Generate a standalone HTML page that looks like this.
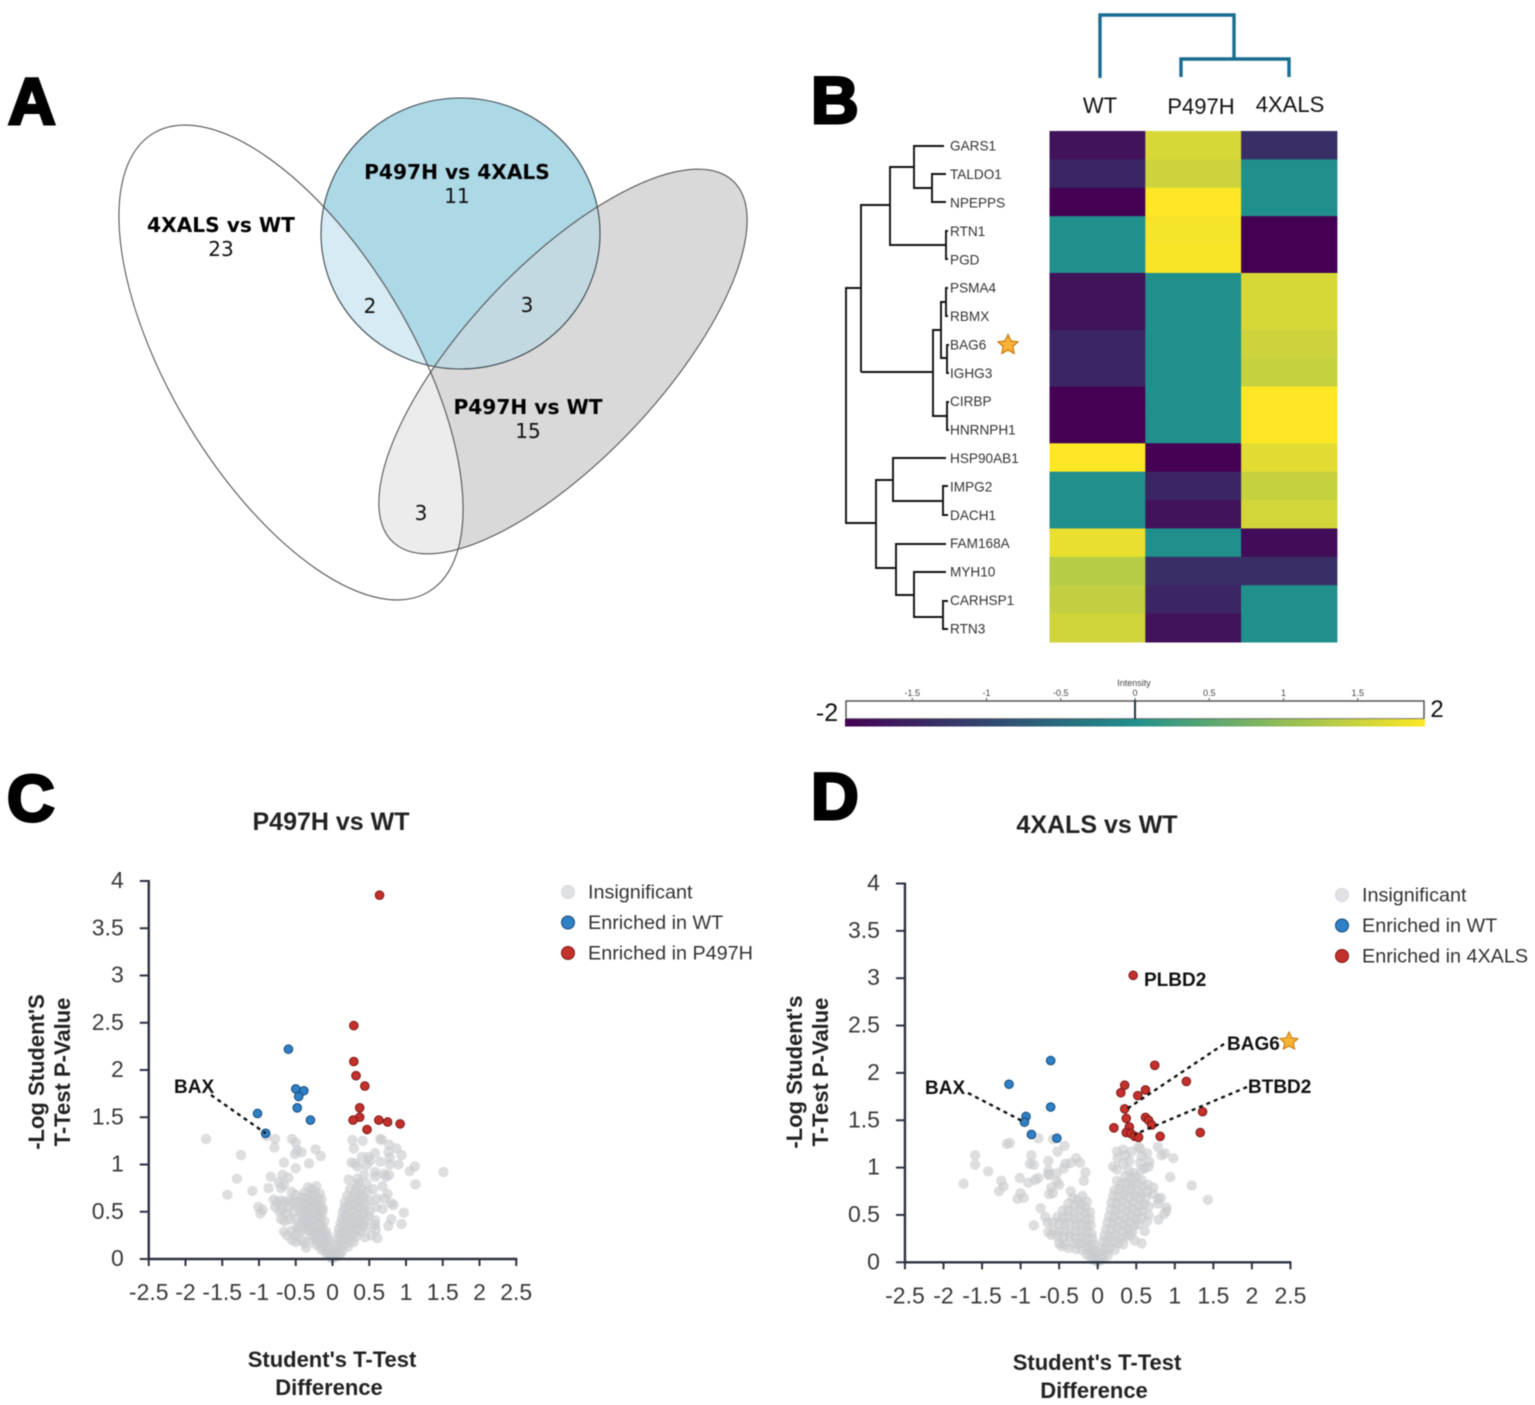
<!DOCTYPE html>
<html lang="en">
<head>
<meta charset="utf-8">
<title>Proteomics figure: Venn, heatmap and volcano plots</title>
<style>
html,body{margin:0;padding:0;background:#fff;}
#figure{display:block;width:1535px;height:1405px;font-family:"Liberation Sans",Arial,sans-serif;filter:blur(0.4px);}
.panel-letter{font-size:66px;font-weight:700;fill:#000;stroke:#000;stroke-width:3px;}
.venn-title{font-family:"DejaVu Sans",sans-serif;font-size:20.2px;font-weight:700;fill:#000;text-anchor:middle;}
.venn-num{font-family:"DejaVu Sans",sans-serif;font-size:20px;fill:#111;text-anchor:middle;}
.tick{font-size:23px;fill:#3a3a3a;}
.axis-title{font-size:22px;font-weight:700;fill:#222;text-anchor:middle;}
.plot-title{font-size:25px;font-weight:700;fill:#222;text-anchor:middle;}
.legend-text{font-size:19.8px;fill:#333;}
.anno{font-size:19px;font-weight:700;fill:#111;}
.gene{font-size:13.6px;fill:#333;}
.sample{font-size:22px;fill:#111;text-anchor:middle;}
.cb-tick{font-size:9px;fill:#444;text-anchor:middle;}
</style>
</head>
<body>
<svg id="figure" xmlns="http://www.w3.org/2000/svg" width="1535" height="1405" viewBox="0 0 1535 1405">
<defs>
  <clipPath id="clip-blue"><ellipse cx="460.5" cy="233.5" rx="139.5" ry="135.5"/></clipPath>
  <clipPath id="clip-gray"><ellipse cx="563" cy="361.5" rx="248" ry="97" transform="rotate(-46.7 563 361.5)"/></clipPath>
  <linearGradient id="cb-gradient" x1="0" x2="1" y1="0" y2="0">
    <stop offset="0" stop-color="#440154"/><stop offset="0.5" stop-color="#21908c"/><stop offset="1" stop-color="#fde725"/>
  </linearGradient>
</defs>

<text class="panel-letter" x="8" y="124">A</text>
<text class="panel-letter" x="811" y="123">B</text>
<text class="panel-letter" x="7" y="821">C</text>
<text class="panel-letter" x="811" y="819">D</text>

<g id="venn">
  <ellipse cx="460.5" cy="233.5" rx="139.5" ry="135.5" fill="#add8e6"/>
  <ellipse cx="563" cy="361.5" rx="248" ry="97" transform="rotate(-46.7 563 361.5)" fill="#d9d9d9"/>
  <g clip-path="url(#clip-blue)">
    <ellipse cx="563" cy="361.5" rx="248" ry="97" transform="rotate(-46.7 563 361.5)" fill="#c3d9e1"/>
    <ellipse cx="291" cy="362.5" rx="267.4" ry="120.3" transform="rotate(59 291 362.5)" fill="#d6ebf3"/>
  </g>
  <g clip-path="url(#clip-gray)">
    <ellipse cx="291" cy="362.5" rx="267.4" ry="120.3" transform="rotate(59 291 362.5)" fill="#ececec"/>
  </g>
  <ellipse cx="460.5" cy="233.5" rx="139.5" ry="135.5" fill="none" stroke="#3d4a50" stroke-width="1.1"/>
  <ellipse cx="563" cy="361.5" rx="248" ry="97" transform="rotate(-46.7 563 361.5)" fill="none" stroke="#555" stroke-width="1.1"/>
  <ellipse cx="291" cy="362.5" rx="267.4" ry="120.3" transform="rotate(59 291 362.5)" fill="none" stroke="#555" stroke-width="1.1"/>
  <text class="venn-title" x="457" y="179">P497H vs 4XALS</text>
  <text class="venn-num" x="457" y="203">11</text>
  <text class="venn-title" x="221" y="232">4XALS vs WT</text>
  <text class="venn-num" x="221" y="256">23</text>
  <text class="venn-title" x="528" y="414">P497H vs WT</text>
  <text class="venn-num" x="528" y="438">15</text>
  <text class="venn-num" x="370" y="313">2</text>
  <text class="venn-num" x="527" y="312">3</text>
  <text class="venn-num" x="421" y="520">3</text>
</g>

<g id="sample-dendrogram" fill="none" stroke="#1b6c90" stroke-width="3.4">
  <path d="M1100 78V15H1234V59"/>
  <path d="M1181 77V59H1289V77"/>
</g>

<g id="gene-dendrogram" fill="none" stroke="#111" stroke-width="1.9">
  <path d="M876 523H846V288H861"/>
  <path d="M861 372V205H890"/>
  <path d="M861 372H933"/>
  <path d="M914 167H890V245H946"/>
  <path d="M944 146H914V188H932"/>
  <path d="M946 174H932V202H946"/>
  <path d="M948 231H946V259H948"/>
  <path d="M941 330H933V416H947"/>
  <path d="M946 302H941V358H947"/>
  <path d="M948 288H946V316H948"/>
  <path d="M949 345H947V373H949"/>
  <path d="M949 402H947V430H949"/>
  <path d="M893 480H876V568H896"/>
  <path d="M946 458H893V501H943"/>
  <path d="M948 486H943V515H948"/>
  <path d="M946 544H896V595H914"/>
  <path d="M946 572H914V617H943"/>
  <path d="M948 601H943V629H948"/>
</g>

<g id="heatmap"></g>
<path d="M1008 334.5l3 6.4 7 .9-5.1 4.8 1.3 6.9-6.2-3.4-6.2 3.4 1.3-6.9-5.1-4.8 7-.9z" fill="#f9b233" stroke="#c47a12" stroke-width="1.2"/>

<g id="colorbar">
  <rect x="846" y="701" width="578" height="18" fill="#fff" stroke="#555" stroke-width="1.5"/>
  <rect x="845" y="719" width="580" height="7.5" fill="url(#cb-gradient)"/>
  <text x="1134" y="686" class="cb-tick">Intensity</text>
  <text x="827" y="721" font-size="25" fill="#111" text-anchor="middle">-2</text>
  <text x="1437" y="717" font-size="24" fill="#111" text-anchor="middle">2</text>
</g>

<g id="plot-c"></g>
<g id="plot-d"></g>
</svg>

<script>
const genes = ["GARS1","TALDO1","NPEPPS","RTN1","PGD","PSMA4","RBMX","BAG6","IGHG3","CIRBP","HNRNPH1","HSP90AB1","IMPG2","DACH1","FAM168A","MYH10","CARHSP1","RTN3"];
const samples = ["WT","P497H","4XALS"];
const heatWT = [-1.75,-1.5,-2,0,0,-1.75,-1.75,-1.5,-1.5,-2,-2,2,0,0,1.82,1.35,1.45,1.58];
const heatP497H = [1.65,1.55,2,1.93,1.95,0,0,0,0,0,0,-2,-1.5,-1.75,0,-1.35,-1.5,-1.75];
const heat4XALS = [-1.35,0,0,-2,-2,1.65,1.65,1.55,1.5,2,2,1.75,1.5,1.62,-1.85,-1.35,0,0];
const colorbarTicks = [-1.5,-1,-0.5,0,0.5,1,1.5];

const volcanoXTicks = [-2.5,-2,-1.5,-1,-0.5,0,0.5,1,1.5,2,2.5];
const volcanoYTicks = [0,0.5,1,1.5,2,2.5,3,3.5,4];

const cRed = [[.64,3.85],[.29,2.47],[.29,2.09],[.32,1.94],[.44,1.83],[.37,1.6],[.37,1.5],[.28,1.47],[.63,1.47],[.75,1.45],[.92,1.43],[.47,1.37]];
const cBlue = [[-.6,2.22],[-.5,1.8],[-.39,1.78],[-.46,1.72],[-.48,1.6],[-.3,1.47],[-1.02,1.54],[-.91,1.33]];
const cGray = [
[-1.72,1.27],[-1.245,1.10],[-1.30,.85],[-1.43,.68],[-1.09,.72],[-.84,.87],[-.87,.75],[-1.01,.55],[-.95,.52],[-.98,.48],[-.9,1.3],[-.78,1.27],[-.79,1.18],[-.66,1.02],[-.55,1.27],[-.50,1.23],[-.48,1.15],[-.42,1.13],[-.51,1.11],[-.50,.96],[-.32,1.01],[-.23,1.16],[-.16,1.09],[-.68,.89],[-.60,.86],[-.73,.81],[-.66,.78],[-.70,.75],[-.555,.71],[-.5,.68],
[-.33,.76],[-.28,.74],[-.22,.77],[-.38,.7],[-.3,.69],[-.24,.71],[-.17,.69],[-.42,.65],[-.36,.64],[-.3,.63],[-.25,.66],[-.2,.64],[-.15,.63],[-.45,.6],[-.39,.59],[-.33,.58],[-.27,.6],[-.22,.59],[-.16,.57],[-.42,.54],[-.36,.55],[-.3,.53],[-.24,.54],[-.18,.52],[-.13,.53],[-.43,.5],[-.37,.49],[-.31,.48],[-.25,.5],[-.19,.47],[-.14,.49],[-.4,.45],[-.34,.44],[-.28,.43],[-.22,.45],[-.16,.43],[-.4,.4],[-.34,.39],[-.28,.38],[-.22,.4],[-.16,.38],[-.11,.4],[-.37,.35],[-.31,.34],[-.25,.33],[-.19,.35],[-.13,.33],[-.33,.3],[-.27,.29],[-.21,.28],[-.15,.3],[-.09,.29],[-.3,.25],[-.24,.24],[-.18,.26],[-.12,.24],[-.07,.25],[-.27,.2],[-.21,.19],[-.15,.21],[-.09,.19],[-.05,.2],[-.22,.15],[-.16,.14],[-.1,.16],[-.05,.14],[-.15,.1],[-.1,.09],[-.05,.1],[-.08,.05],[-.04,.04],[-.02,.02],[-.01,.01],
[-.8,.63],[-.75,.6],[-.7,.62],[-.65,.6],[-.6,.62],[-.55,.6],[-.78,.55],[-.72,.5],[-.68,.52],[-.62,.48],[-.6,.55],[-.7,.42],[-.65,.4],[-.58,.42],[-.52,.5],[-.5,.42],[-.66,.29],[-.62,.25],[-.55,.2],[-.5,.18],[-.55,.3],[-.48,.33],[-.5,.25],[-.42,.2],[-.38,.17],[-.36,.12],[-.45,.28],[-.47,.55],[-.5,.6],[-.44,.37],[-.42,.31],
[.27,1.26],[.41,1.25],[.29,1.17],[.65,1.27],[.67,1.26],[.77,1.21],[.87,1.17],[.76,1.13],[.94,1.10],[.40,1.08],[.49,1.08],[.58,1.12],[.78,1.07],[.65,1.03],[.26,1.02],[.31,1.01],[.34,.98],[.51,1.04],[.46,.99],[.78,1.0],[.90,1.0],[1.12,.98],[1.05,.93],[1.51,.92],[1.13,.79],[.58,.92],[.58,.87],[.43,.89],[.70,.90],[.77,.89],[.73,.87],[.22,.84],[.34,.85],[.35,.80],[.46,.80],[.55,.74],[.68,.77],[.75,.69],[.6,.64],[.71,.64],[.80,.59],[.83,.57],[.68,.53],[.59,.55],[.97,.49],[.80,.42],[.94,.37],[.76,.35],[.58,.41],[.58,.36],[.59,.31],[.53,.25],[.61,.22],[.44,.23],[.46,.34],[.49,.45],
[.24,.74],[.33,.76],[.4,.73],[.47,.71],[.31,.7],[.38,.68],[.2,.67],[.27,.65],[.34,.63],[.42,.65],[.5,.62],[.17,.6],[.24,.6],[.31,.58],[.38,.6],[.45,.58],[.16,.54],[.22,.55],[.29,.53],[.36,.54],[.43,.52],[.5,.5],[.14,.49],[.2,.48],[.27,.49],[.34,.47],[.41,.48],[.13,.43],[.19,.44],[.25,.42],[.32,.43],[.38,.41],[.44,.4],[.11,.38],[.17,.37],[.23,.38],[.29,.36],[.35,.37],[.41,.35],[.09,.32],[.15,.33],[.21,.31],[.27,.32],[.33,.3],[.38,.29],[.08,.27],[.14,.26],[.2,.27],[.26,.25],[.32,.24],[.07,.21],[.12,.2],[.18,.21],[.24,.19],[.29,.18],[.05,.15],[.1,.14],[.16,.15],[.21,.13],[.04,.1],[.08,.09],[.13,.08],[.03,.05],[.06,.03],[.1,.04],[.01,.01]
];

const dRed = [[.46,3.03],[.74,2.08],[1.15,1.91],[.35,1.87],[.3,1.79],[.62,1.82],[.52,1.76],[.35,1.62],[.37,1.52],[.62,1.53],[.66,1.5],[.7,1.45],[1.36,1.59],[1.33,1.37],[.21,1.42],[.41,1.43],[.37,1.37],[.43,1.36],[.48,1.33],[.53,1.32],[.81,1.33]];
const dBlue = [[-.61,2.13],[-1.15,1.88],[-.61,1.64],[-.93,1.54],[-.95,1.48],[-.86,1.35],[-.53,1.31]];
const dGray = [
[-1.74,.83],[-1.59,1.13],[-1.59,1.03],[-1.42,.96],[-1.25,.86],[-1.22,.80],[-1.28,.75],[-1.18,1.25],[-1.14,1.26],[-.86,1.13],[-.88,1.04],[-.83,1.03],[-.77,1.31],[-.58,1.30],[-.43,1.23],[-.52,1.17],[-.64,1.07],[-.28,1.10],[-.35,1.05],[-.42,1.04],[-.23,1.05],[-.44,.99],[-.64,.97],[-.64,.93],[-.53,.94],[-.16,.95],[-.18,.86],[-1.01,.89],[-.9,.84],[-.81,.87],[-.77,.89],[-.63,.92],[-.53,.85],[-.5,.82],[-.6,.79],[-.63,.72],[-.58,.73],[-.35,.75],[-1.0,.73],[-.96,.68],[-1.04,.67],[-.74,.57],[-.68,.48],[-.65,.42],[-.83,.39],[-.64,.32],[-.47,.17],[-.38,.15],
[-.32,.68],[-.26,.66],[-.2,.7],[-.14,.64],[-.38,.62],[-.3,.6],[-.22,.61],[-.16,.58],[-.45,.55],[-.38,.54],[-.3,.53],[-.23,.55],[-.16,.52],[-.1,.53],[-.52,.48],[-.45,.47],[-.38,.48],[-.3,.46],[-.23,.47],[-.16,.45],[-.1,.46],[-.58,.42],[-.5,.41],[-.43,.4],[-.36,.41],[-.28,.39],[-.21,.4],[-.14,.38],[-.09,.39],[-.57,.33],[-.5,.32],[-.43,.33],[-.36,.31],[-.28,.33],[-.21,.31],[-.14,.32],[-.08,.3],[-.6,.29],[-.52,.27],[-.44,.26],[-.36,.27],[-.28,.25],[-.21,.26],[-.14,.24],[-.07,.25],[-.5,.2],[-.42,.19],[-.3,.2],[-.24,.19],[-.17,.2],[-.1,.18],[-.05,.19],[-.28,.14],[-.2,.13],[-.13,.14],[-.08,.13],[-.04,.12],[-.14,.08],[-.09,.07],[-.05,.08],[-.07,.03],[-.03,.03],[-.01,.01],
[.25,1.17],[.33,1.19],[.44,1.17],[.53,1.22],[.55,1.2],[.78,1.22],[.87,1.15],[.83,1.13],[.98,1.10],[.64,1.15],[.57,1.12],[.36,1.13],[.26,1.10],[.41,1.07],[.33,1.04],[.67,1.06],[.2,1.01],[.25,.98],[.55,1.05],[.61,.99],[.66,1.01],[.57,.98],[.94,.9],[1.22,.81],[1.43,.66],[.72,.79],[.72,.72],[.82,.68],[.79,.67],[.78,.62],[.89,.58],[.89,.54],[.86,.51],[.79,.45],[.66,.59],[.66,.5],[.64,.43],[.61,.33],[.57,.2],[.48,.23],
[.4,.97],[.47,.94],[.36,.91],[.43,.88],[.5,.9],[.57,.87],[.25,.86],[.31,.83],[.38,.84],[.45,.82],[.52,.83],[.59,.8],[.65,.82],[.22,.76],[.29,.77],[.36,.75],[.43,.77],[.5,.75],[.57,.73],[.64,.74],[.2,.7],[.27,.69],[.34,.71],[.41,.68],[.48,.7],[.55,.67],[.62,.68],[.18,.63],[.25,.62],[.32,.64],[.39,.61],[.46,.63],[.53,.6],[.6,.61],[.17,.56],[.24,.55],[.31,.57],[.38,.54],[.45,.56],[.52,.53],[.58,.54],[.15,.49],[.22,.48],[.29,.5],[.36,.47],[.43,.49],[.5,.46],[.56,.47],[.13,.42],[.2,.41],[.27,.43],[.34,.4],[.41,.42],[.48,.39],[.53,.4],[.11,.35],[.18,.34],[.25,.36],[.32,.33],[.39,.35],[.45,.32],[.09,.28],[.16,.27],[.23,.29],[.3,.26],[.37,.27],[.42,.29],[.07,.22],[.13,.21],[.2,.22],[.27,.2],[.33,.19],[.05,.15],[.1,.14],[.16,.15],[.22,.13],[.04,.09],[.08,.08],[.13,.07],[.03,.04],[.06,.03],[.01,.01]
];

const SVGNS = "http://www.w3.org/2000/svg";
function make(tag, parent, attrs, text) {
  const el = document.createElementNS(SVGNS, tag);
  for (const k in attrs) el.setAttribute(k, attrs[k]);
  if (text !== undefined) el.textContent = text;
  parent.appendChild(el);
  return el;
}
function mix(a, b, t) {
  return a.map((v, i) => Math.round(v + (b[i] - v) * t));
}
function intensityColor(v) {
  const low = [68, 1, 84], mid = [33, 144, 140], high = [253, 231, 37];
  const c = v < 0 ? mix(mid, low, Math.min(1, -v / 2)) : mix(mid, high, Math.min(1, v / 2));
  return "rgb(" + c.join(",") + ")";
}

/* ---------- heatmap ---------- */
const heatmap = document.getElementById("heatmap");
const heatColumns = [heatWT, heatP497H, heat4XALS];
const heatLeft = 1049.5, heatTop = 131, colW = 95.8, rowH = 511 / genes.length;
const sampleXOffsets = [1100, 1201, 1290];
const sampleYOffsets = [113, 114, 112];
heatColumns.forEach(function (column, c) {
  column.forEach(function (value, r) {
    const cell = make("rect", heatmap, {x: heatLeft + c * colW, y: heatTop + r * rowH, width: colW + 0.5, height: rowH + 0.5, fill: intensityColor(value)});
    
    
  });
  const label = make("text", heatmap, {x: sampleXOffsets[c], y: sampleYOffsets[c], class: "sample"}, samples[c]);
  
  
});
genes.forEach(function (gene, r) {
  const label = make("text", heatmap, {x: 950, y: heatTop + (r + 0.5) * rowH + 5.5, class: "gene"}, gene);
  
  
});

/* ---------- colorbar ticks ---------- */
const colorbar = document.getElementById("colorbar");
function cbScale(v) { return 1135 + v * 148.5; }
colorbarTicks.forEach(function (v) {
  const x = cbScale(v);
  const tick = make("line", colorbar, {x1: x, x2: x, y1: 698, y2: 701, stroke: "#555", "stroke-width": 1});
  
  
  const label = make("text", colorbar, {x: x, y: 696, class: "cb-tick"}, String(v));
  
  
});
const zeroMark = make("line", colorbar, {x1: cbScale(0), x2: cbScale(0), y1: 700, y2: 719, stroke: "#1c3b40", "stroke-width": 2});



/* ---------- volcano plots ---------- */
function drawVolcano(cfg) {
  const g = document.getElementById(cfg.id);
  const sx = v => cfg.x0 + v * cfg.xUnit;
  const sy = v => cfg.y0 - v * cfg.yUnit;
  const AXIS = "#2c3240";

  const title = make("text", g, {x: cfg.titleX, y: cfg.titleY, class: "plot-title"}, cfg.title);
  
  

  cfg.gray.forEach(function (p) {
    const dot = make("circle", g, {cx: sx(p[0]), cy: sy(p[1]), r: 4.9, fill: "#cbced2", "fill-opacity": 0.68, stroke: "#bfc3c7", "stroke-opacity": 0.3, "stroke-width": 0.8});
    
    
  });

  const yAxis = make("line", g, {x1: sx(-2.5), x2: sx(-2.5), y1: sy(4) - 1, y2: sy(0) + 1, stroke: AXIS, "stroke-width": 2.4});
  
  
  const xAxis = make("line", g, {x1: sx(-2.5) - 1, x2: sx(2.5) + 1, y1: sy(0), y2: sy(0), stroke: AXIS, "stroke-width": 2.4});
  
  

  volcanoYTicks.forEach(function (v) {
    const t = make("line", g, {x1: sx(-2.5) - 9, x2: sx(-2.5), y1: sy(v), y2: sy(v), stroke: AXIS, "stroke-width": 2});
    
    
    const lab = make("text", g, {x: sx(-2.5) - 25, y: sy(v) + 7, class: "tick", "text-anchor": "end"}, String(v));
    
    
  });
  volcanoXTicks.forEach(function (v) {
    const t = make("line", g, {x1: sx(v), x2: sx(v), y1: sy(0), y2: sy(0) + 7, stroke: AXIS, "stroke-width": 2});
    
    
    const lab = make("text", g, {x: sx(v), y: sy(0) + 41, class: "tick", "text-anchor": "middle"}, String(v));
    
    
  });

  cfg.blue.forEach(function (p) {
    const dot = make("circle", g, {cx: sx(p[0]), cy: sy(p[1]), r: 4.3, fill: "#2f80c6", stroke: "#174a78", "stroke-width": 1});
    
    
  });
  cfg.red.forEach(function (p) {
    const dot = make("circle", g, {cx: sx(p[0]), cy: sy(p[1]), r: 4.3, fill: "#c4302b", stroke: "#7a1b18", "stroke-width": 1});
    
    
  });

  cfg.annotations.forEach(function (a) {
    if (a.point) {
      const lead = make("line", g, {x1: a.lx, y1: a.ly, x2: sx(a.point[0]), y2: sy(a.point[1]), stroke: "#111", "stroke-width": 2.4, "stroke-dasharray": "4 4"});
      
      
    }
    const lab = make("text", g, {x: a.x, y: a.y, class: "anno"}, a.text);
    
    
  });

  const legendColors = ["#dfe1e4", "#2f80c6", "#c4302b"];
  const legendStroke = ["#d6d8db", "#174a78", "#7a1b18"];
  cfg.legend.forEach(function (text, i) {
    const swatch = make("circle", g, {cx: cfg.legendX, cy: cfg.legendY + i * 30.5, r: 6.5, fill: legendColors[i], stroke: legendStroke[i], "stroke-width": 1});
    
    
    const lab = make("text", g, {x: cfg.legendX + 20, y: cfg.legendY + i * 30.5 + 6.5, class: "legend-text"}, text);
    
    
  });

  cfg.xTitle.forEach(function (line, i) {
    const t = make("text", g, {x: cfg.xTitleX[i], y: cfg.xTitleY + i * 28, class: "axis-title"}, line);
    
    
  });
  cfg.yTitle.forEach(function (line, i) {
    const x = cfg.yTitleX + i * 26;
    const t = make("text", g, {x: x, y: cfg.yTitleY, class: "axis-title", transform: "rotate(-90 " + x + " " + cfg.yTitleY + ")"}, line);
    
    
  });
}

drawVolcano({
  id: "plot-c", title: "P497H vs WT", titleX: 331, titleY: 830,
  x0: 332.5, xUnit: 73.5, y0: 1259, yUnit: 94.5,
  gray: cGray, red: cRed, blue: cBlue,
  annotations: [{text: "BAX", x: 174, y: 1093, lx: 211, ly: 1095, point: [-.91, 1.33]}],
  legend: ["Insignificant", "Enriched in WT", "Enriched in P497H"], legendX: 568, legendY: 892,
  xTitle: ["Student's T-Test", "Difference"], xTitleX: [332, 329], xTitleY: 1367,
  yTitle: ["-Log Student'S", "T-Test P-Value"], yTitleX: 44, yTitleY: 1072
});
drawVolcano({
  id: "plot-d", title: "4XALS vs WT", titleX: 1097, titleY: 833,
  x0: 1097.7, xUnit: 77.1, y0: 1262.3, yUnit: 94.7,
  gray: dGray, red: dRed, blue: dBlue,
  annotations: [
    {text: "BAX", x: 925, y: 1094, lx: 968, ly: 1093, point: [-.95, 1.48]},
    {text: "PLBD2", x: 1144, y: 986},
    {text: "BAG6", x: 1227, y: 1050, lx: 1224, ly: 1044, point: [.38, 1.62]},
    {text: "BTBD2", x: 1248, y: 1093, lx: 1247, ly: 1087, point: [.48, 1.35]}
  ],
  legend: ["Insignificant", "Enriched in WT", "Enriched in 4XALS"], legendX: 1342, legendY: 895,
  xTitle: ["Student's T-Test", "Difference"], xTitleX: [1097, 1094], xTitleY: 1370,
  yTitle: ["-Log Student's", "T-Test P-Value"], yTitleX: 802, yTitleY: 1072
});
const star = make("path", document.getElementById("plot-d"), {d: "M1289 1032l2.7 5.8 6.3.8-4.6 4.3 1.2 6.2-5.6-3.1-5.6 3.1 1.2-6.2-4.6-4.3 6.3-.8z", fill: "#f9b233", stroke: "#c47a12", "stroke-width": 1.1});


</script>
</body>
</html>
